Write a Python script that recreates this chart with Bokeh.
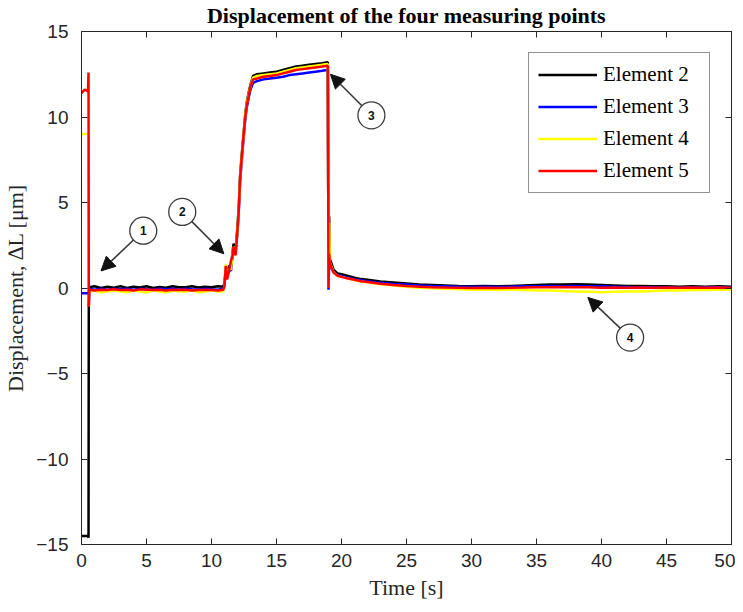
from bokeh.plotting import figure
from bokeh.models import (Range1d, LinearAxis, SingleIntervalTicker, Arrow, NormalHead,
                          Legend, LegendItem, ColumnDataSource)
from bokeh.core.properties import value
from bokeh.embed import file_html
from bokeh.resources import INLINE

# ---------------- data ----------------
time_s = [
    0.0, 0.25, 0.5, 0.54, 0.56, 0.6, 1.0, 1.5, 2.0, 2.5,
    3.0, 3.5, 4.0, 4.5, 5.0, 5.5, 6.0, 6.5, 7.0, 7.5,
    8.0, 8.5, 9.0, 9.5, 10.0, 10.5, 10.9, 11.0, 11.1, 11.2,
    11.35, 11.5, 11.6, 11.7, 11.85, 12.0, 12.1, 12.2, 12.35, 12.5,
    12.6, 12.7, 12.85, 13.0, 13.2, 13.5, 14.0, 14.5, 15.0, 15.5,
    16.0, 16.5, 17.0, 17.5, 18.0, 18.5, 18.95, 19.0, 19.05, 19.1,
    19.2, 19.4, 19.7, 20.0, 20.5, 21.0, 21.5, 22.0, 23.0, 24.0,
    25, 26, 27, 28, 29, 30, 31, 32, 33, 34,
    35, 36, 37, 38, 39, 40, 41, 42, 43, 44,
    45, 46, 47, 48, 49, 50,
]

element2 = [
    -14.5, -14.5, -14.5, -14.6, -1.2, 0.05, 0.1, 0.0, 0.08, 0.02,
    0.1, 0.0, 0.08, 0.03, 0.1, 0.0, 0.06, 0.02, 0.1, 0.04,
    0.05, 0.1, 0.03, 0.08, 0.05, 0.1, 0.08, 0.3, 1.2, 0.9,
    1.3, 1.2, 2.0, 2.6, 2.2, 3.6, 4.8, 6.6, 8.0, 9.3,
    10.2, 10.8, 11.4, 11.9, 12.4, 12.5, 12.55, 12.6, 12.65, 12.75,
    12.85, 12.95, 13.0, 13.05, 13.1, 13.15, 13.2, 0.1, 4.2, 1.7,
    1.5, 1.05, 0.85, 0.8, 0.7, 0.6, 0.52, 0.48, 0.38, 0.32,
    0.26, 0.2, 0.18, 0.15, 0.12, 0.1, 0.12, 0.1, 0.12, 0.15,
    0.18, 0.2, 0.2, 0.22, 0.2, 0.18, 0.15, 0.12, 0.12, 0.1,
    0.1, 0.08, 0.1, 0.08, 0.1, 0.08,
]

element3 = [
    -0.3, -0.3, -0.3, -0.3, -0.2, -0.05, -0.1, -0.05, -0.1, -0.05,
    -0.08, -0.05, -0.1, -0.05, -0.08, -0.1, -0.05, -0.08, -0.05, -0.1,
    -0.05, -0.08, -0.1, -0.05, -0.08, -0.1, -0.05, 0.2, 1.0, 0.7,
    1.1, 1.0, 1.8, 2.3, 2.0, 3.3, 4.5, 6.2, 7.7, 9.0,
    9.9, 10.5, 11.1, 11.6, 12.0, 12.1, 12.2, 12.25, 12.3, 12.35,
    12.45, 12.5, 12.55, 12.6, 12.65, 12.7, 12.75, -0.1, 1.6, 1.4,
    1.2, 0.9, 0.75, 0.7, 0.6, 0.52, 0.45, 0.4, 0.3, 0.24,
    0.2, 0.15, 0.12, 0.1, 0.08, 0.06, 0.08, 0.06, 0.08, 0.1,
    0.1, 0.12, 0.1, 0.12, 0.1, 0.1, 0.08, 0.06, 0.05, 0.05,
    0.05, 0.03, 0.05, 0.04, 0.05, 0.03,
]

element4 = [
    9.0, 9.0, 9.0, 9.0, -0.2, -0.2, -0.15, -0.25, -0.2, -0.15,
    -0.2, -0.25, -0.15, -0.2, -0.25, -0.15, -0.2, -0.25, -0.15, -0.2,
    -0.2, -0.15, -0.25, -0.2, -0.15, -0.2, -0.2, 0.1, 1.4, 0.6,
    1.1, 1.1, 1.9, 2.4, 2.1, 3.4, 4.7, 6.4, 7.9, 9.2,
    10.1, 10.7, 11.3, 11.8, 12.3, 12.4, 12.45, 12.5, 12.55, 12.65,
    12.75, 12.85, 12.9, 12.95, 13.0, 13.05, 13.1, 0.0, 3.8, 1.5,
    1.3, 0.9, 0.7, 0.65, 0.55, 0.45, 0.38, 0.32, 0.22, 0.15,
    0.08, 0.02, -0.02, -0.05, -0.08, -0.1, -0.1, -0.12, -0.1, -0.12,
    -0.15, -0.15, -0.18, -0.2, -0.22, -0.25, -0.22, -0.2, -0.2, -0.18,
    -0.15, -0.15, -0.12, -0.12, -0.1, -0.1,
]

element5 = [
    11.4, 11.6, 11.5, 12.6, -1.1, -0.1, -0.15, -0.1, -0.12, -0.08,
    -0.12, -0.1, -0.15, -0.08, -0.1, -0.12, -0.1, -0.15, -0.1, -0.12,
    -0.1, -0.15, -0.12, -0.1, -0.12, -0.15, -0.1, 0.1, 1.3, 0.5,
    1.0, 1.6, 1.8, 2.4, 1.9, 3.4, 4.6, 6.4, 7.9, 9.2,
    10.0, 10.6, 11.2, 11.8, 12.2, 12.25, 12.35, 12.4, 12.45, 12.55,
    12.65, 12.75, 12.8, 12.85, 12.9, 12.95, 13.0, 0.0, 2.0, 1.5,
    1.25, 0.9, 0.72, 0.65, 0.55, 0.48, 0.4, 0.35, 0.25, 0.18,
    0.12, 0.08, 0.05, 0.03, 0.02, 0.0, 0.02, 0.0, 0.02, 0.03,
    0.05, 0.05, 0.06, 0.05, 0.04, 0.02, 0.03, 0.02, 0.03, 0.02,
    0.03, 0.02, 0.03, 0.02, 0.03, 0.02,
]

series_names = ["Element 2", "Element 3", "Element 4", "Element 5"]
series_colors = ["#000000", "#0000ff", "#ffff00", "#ff0000"]

# annotation markers: label, circle centre (t, value), arrow tip (t, value)
marker_labels = ["1", "2", "3", "4"]
marker_x = [4.75, 7.75, 22.3, 42.2]
marker_y = [3.35, 4.45, 10.1, -2.9]
tip_x = [1.5, 10.95, 19.15, 38.95]
tip_y = [1.0, 2.0, 12.5, -0.55]

x_ticks_interval = 5
y_ticks_interval = 5

# ---------------- figure ----------------
AX = "#262626"
p = figure(frame_width=650, frame_height=513,
           output_backend="svg", toolbar_location=None,
           x_range=Range1d(0, 50), y_range=Range1d(-15, 15),
           min_border_left=73, min_border_top=25, min_border_right=4, min_border_bottom=54,
           x_axis_label="Time [s]", y_axis_label="Displacement, \u2206L [\u03bcm]",
           title="Displacement of the four measuring points")
p.outline_line_color = None
p.grid.visible = False
p.background_fill_color = "white"
p.border_fill_color = "white"

p.title.align = "center"
p.title.text_font = "Liberation Serif"
p.title.text_font_size = "22px"
p.title.text_font_style = "bold"
p.title.text_color = "#000000"
p.title.standoff = 0

top_axis = LinearAxis()
right_axis = LinearAxis()
p.add_layout(top_axis, "above")
p.add_layout(right_axis, "right")

for ax in p.xaxis:
    ax.ticker = SingleIntervalTicker(interval=x_ticks_interval)
for ax in p.yaxis:
    ax.ticker = SingleIntervalTicker(interval=y_ticks_interval)

for ax in p.axis:
    ax.axis_line_color = AX
    ax.axis_line_width = 1
    ax.major_tick_line_color = AX
    ax.major_tick_in = 6
    ax.major_tick_out = 0
    ax.minor_tick_line_color = None
    ax.major_label_text_font = "Liberation Sans"
    ax.major_label_text_font_size = "19px"
    ax.major_label_text_color = AX
    ax.axis_label_text_font = "Liberation Serif"
    ax.axis_label_text_font_size = "22px"
    ax.axis_label_text_font_style = "normal"
    ax.axis_label_text_color = AX

p.xaxis[0].major_label_standoff = 8
p.yaxis[0].major_label_standoff = 9
p.xaxis[0].axis_label_standoff = 2
p.yaxis[0].axis_label_standoff = 5
for ax in (top_axis, right_axis):
    ax.major_label_text_font_size = "0px"
    ax.major_label_text_color = None
    ax.major_label_standoff = 0
    ax.axis_label = None

# ---------------- data lines ----------------
src = ColumnDataSource(dict(t=time_s, e2=element2, e3=element3, e4=element4, e5=element5))
legend_items = []
for col, name, color in zip(["e2", "e3", "e4", "e5"], series_names, series_colors):
    r = p.line("t", col, source=src, line_color=color, line_width=2.5)
    legend_items.append(LegendItem(label=name, renderers=[r]))

legend = Legend(items=legend_items, location="top_right")
legend.margin = 21
legend.padding = 9
legend.spacing = 7
legend.glyph_width = 59
legend.glyph_height = 21
legend.label_height = 21
legend.label_width = 97
legend.label_standoff = 6
legend.label_text_font = "Liberation Serif"
legend.label_text_font_size = "21px"
legend.label_text_color = "#000000"
legend.border_line_color = AX
legend.border_line_width = 1
legend.background_fill_color = "white"
legend.background_fill_alpha = 1
p.add_layout(legend)

# ---------------- numbered annotations ----------------
for xs, ys, xe, ye in zip(marker_x, marker_y, tip_x, tip_y):
    arr = Arrow(x_start=xs, y_start=ys, x_end=xe, y_end=ye,
                line_color="#3a3a3a", line_width=1.6,
                end=NormalHead(size=14, fill_color="#111111", line_color="#111111"),
                level="underlay")
    p.add_layout(arr)

msrc = ColumnDataSource(dict(x=marker_x, y=marker_y, lab=marker_labels))
p.scatter("x", "y", source=msrc, marker="circle", size=27,
          fill_color="white", line_color="#3c3c3c", line_width=1.3)
p.text("x", "y", text="lab", source=msrc, text_align="center", text_baseline="middle",
       text_font=value("Liberation Sans"), text_font_size="12px", text_font_style="bold",
       text_color="#111111")

open("out.html", "w").write(file_html(p, INLINE))
